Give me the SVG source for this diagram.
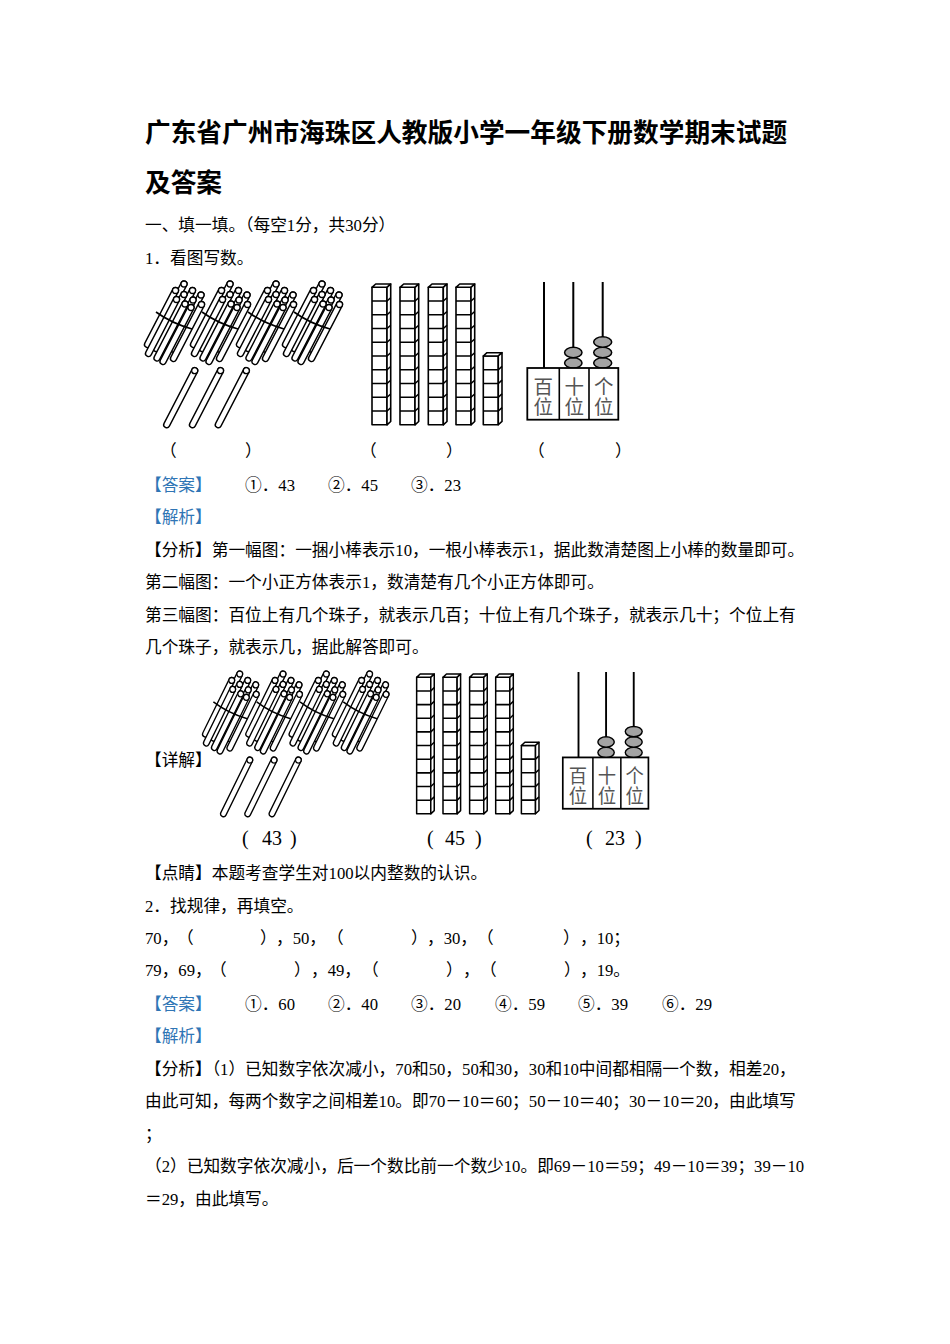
<svg xmlns="http://www.w3.org/2000/svg" xmlns:xlink="http://www.w3.org/1999/xlink" width="950" height="1344" viewBox="0 0 950 1344">
<style>
.t{font-family:"Liberation Serif","Noto Sans CJK SC",serif;font-size:16.7px;fill:#000}
.b{fill:#2f75b5}
.ti{font-family:"Noto Sans CJK SC",sans-serif;font-size:25.7px;font-weight:bold;fill:#000}
.ab{font-family:"Noto Sans CJK SC",sans-serif;font-size:19.5px;fill:#555;text-anchor:middle}
.pp{font-family:"Liberation Serif","Noto Sans CJK SC",serif;font-size:20px;fill:#000}
.ln{stroke:#000;fill:none;stroke-width:1.6}
.cb{stroke:#000;fill:#fff;stroke-width:1.6;stroke-linejoin:round}
.bead{fill:#a3a3a3;stroke:#000;stroke-width:1.5}
</style>
<defs>
<g id="stick">
<path d="M0 0L-28 54" stroke="#000" stroke-width="7.4" stroke-linecap="round" fill="none"/>
<path d="M0 0L-28 54" stroke="#fff" stroke-width="4.6" stroke-linecap="round" fill="none"/>
<circle r="3" fill="#fff" stroke="#000" stroke-width="1.3"/>
</g>
<g id="bundle">
<use xlink:href="#stick" href="#stick" x="184" y="284"/>
<use xlink:href="#stick" href="#stick" x="175.5" y="290.5"/>
<use xlink:href="#stick" href="#stick" x="192.5" y="290.5"/>
<use xlink:href="#stick" href="#stick" x="184" y="294.5"/>
<use xlink:href="#stick" href="#stick" x="201" y="295"/>
<use xlink:href="#stick" href="#stick" x="176.5" y="299.5"/>
<use xlink:href="#stick" href="#stick" x="193" y="300"/>
<use xlink:href="#stick" href="#stick" x="185" y="304"/>
<use xlink:href="#stick" href="#stick" x="201.5" y="304.5"/>
<use xlink:href="#stick" href="#stick" x="191" y="307.5"/>
<path class="ln" d="M156 312Q171 323 192 329"/>
</g>
<g id="col10">
<rect class="cb" x="0" y="0" width="15" height="137.5"/>
<path class="cb" d="M0 0l3.7 -3.3h15l-3.7 3.3z"/>
<path class="cb" d="M15 0l3.7 -3.3v137.5l-3.7 3.3z"/>
<path class="ln" stroke-width="1.3" d="M0 13.75h15l3.7 -3.3M0 27.5h15l3.7 -3.3M0 41.25h15l3.7 -3.3M0 55h15l3.7 -3.3M0 68.75h15l3.7 -3.3M0 82.5h15l3.7 -3.3M0 96.25h15l3.7 -3.3M0 110h15l3.7 -3.3M0 123.75h15l3.7 -3.3"/>
</g>
<g id="col5">
<rect class="cb" x="0" y="0" width="15" height="68.75"/>
<path class="cb" d="M0 0l3.7 -3.3h15l-3.7 3.3z"/>
<path class="cb" d="M15 0l3.7 -3.3v68.75l-3.7 3.3z"/>
<path class="ln" stroke-width="1.3" d="M0 13.75h15l3.7 -3.3M0 27.5h15l3.7 -3.3M0 41.25h15l3.7 -3.3M0 55h15l3.7 -3.3"/>
</g>
<g id="figs">
<g id="sticks">
<use xlink:href="#bundle" href="#bundle" x="0"/>
<use xlink:href="#bundle" href="#bundle" x="46"/>
<use xlink:href="#bundle" href="#bundle" x="92"/>
<use xlink:href="#bundle" href="#bundle" x="138"/>
<use xlink:href="#stick" href="#stick" x="194.7" y="370.7"/>
<use xlink:href="#stick" href="#stick" x="220.5" y="370.7"/>
<use xlink:href="#stick" href="#stick" x="246.3" y="370.7"/>
</g>
<g id="cubes">
<use xlink:href="#col10" href="#col10" x="372" y="287.3"/>
<use xlink:href="#col10" href="#col10" x="400" y="287.3"/>
<use xlink:href="#col10" href="#col10" x="428.3" y="287.3"/>
<use xlink:href="#col10" href="#col10" x="456" y="287.3"/>
<use xlink:href="#col5" href="#col5" x="483.3" y="356"/>
</g>
<g id="abacus">
<path stroke="#000" stroke-width="2" fill="none" d="M544 282V368M573.3 282V368M602.7 282V368"/>
<ellipse class="bead" cx="573.3" cy="363" rx="8.7" ry="5.2"/>
<ellipse class="bead" cx="573.3" cy="352.5" rx="8.7" ry="5.2"/>
<ellipse class="bead" cx="602.7" cy="363" rx="9" ry="5.2"/>
<ellipse class="bead" cx="602.7" cy="352.5" rx="9" ry="5.2"/>
<ellipse class="bead" cx="602.7" cy="342" rx="9" ry="5.2"/>
<rect x="527.3" y="368" width="91" height="51.7" fill="#fff" stroke="#000" stroke-width="1.8"/>
<path stroke="#000" stroke-width="1.6" d="M559.3 368V419.7M589 368V419.7"/>
<text class="ab" x="543.3" y="393.5">百</text>
<text class="ab" x="543.3" y="413.5">位</text>
<text class="ab" x="574.2" y="393.5">十</text>
<text class="ab" x="574.2" y="413.5">位</text>
<text class="ab" x="603.7" y="393.5">个</text>
<text class="ab" x="603.7" y="413.5">位</text>
</g>
</g>
</defs>

<g id="title">
<text class="ti" x="145" y="142">广东省广州市海珠区人教版小学一年级下册数学期末试题</text>
<text class="ti" x="145" y="192">及答案</text>
</g>

<g id="q1">
<text class="t" x="145" y="231.3">一、填一填。（每空1分，共30分）</text>
<text class="t" x="145" y="264.3">1．看图写数。</text>
<use id="fig-main" xlink:href="#figs" href="#figs"/>
<text class="t" x="160" y="457.3">（</text>
<text class="t" x="245" y="457.3">）</text>
<text class="t" x="360" y="457.3">（</text>
<text class="t" x="446" y="457.3">）</text>
<text class="t" x="528" y="457.3">（</text>
<text class="t" x="615" y="457.3">）</text>
<text class="t b" x="145" y="491.3">【答案】</text>
<text class="t" x="245" y="491.3">①．43</text>
<text class="t" x="328" y="491.3">②．45</text>
<text class="t" x="411" y="491.3">③．23</text>
<text class="t b" x="145" y="523.3">【解析】</text>
<text class="t" x="145" y="556.3">【分析】第一幅图：一捆小棒表示10，一根小棒表示1，据此数清楚图上小棒的数量即可。</text>
<text class="t" x="145" y="588.3">第二幅图：一个小正方体表示1，数清楚有几个小正方体即可。</text>
<text class="t" x="145" y="621.3">第三幅图：百位上有几个珠子，就表示几百；十位上有几个珠子，就表示几十；个位上有</text>
<text class="t" x="145" y="653.3">几个珠子，就表示几，据此解答即可。</text>
<text class="t" x="145" y="766.3">【详解】</text>
<use id="fig-detail" xlink:href="#figs" href="#figs" transform="translate(66.6,392) scale(0.941,0.993)"/>
<text class="pp" x="242" y="845">(</text>
<text class="pp" x="262" y="845">43</text>
<text class="pp" x="290" y="845">)</text>
<text class="pp" x="427" y="845">(</text>
<text class="pp" x="445" y="845">45</text>
<text class="pp" x="475" y="845">)</text>
<text class="pp" x="586" y="845">(</text>
<text class="pp" x="605" y="845">23</text>
<text class="pp" x="635" y="845">)</text>
<text class="t" x="145" y="879.3">【点睛】本题考查学生对100以内整数的认识。</text>
</g>

<g id="q2">
<text class="t" x="145" y="912.3">2．找规律，再填空。</text>
<text class="t" x="145" y="944.3">70，</text>
<text class="t" x="177" y="944.3">（</text>
<text class="t" x="260" y="944.3">）</text>
<text class="t" x="276" y="944.3">，50，</text>
<text class="t" x="327" y="944.3">（</text>
<text class="t" x="411" y="944.3">）</text>
<text class="t" x="427" y="944.3">，30，</text>
<text class="t" x="477" y="944.3">（</text>
<text class="t" x="563" y="944.3">）</text>
<text class="t" x="580" y="944.3">，10；</text>
<text class="t" x="145" y="976.3">79，69，</text>
<text class="t" x="210" y="976.3">（</text>
<text class="t" x="294" y="976.3">）</text>
<text class="t" x="311" y="976.3">，49，</text>
<text class="t" x="362" y="976.3">（</text>
<text class="t" x="446" y="976.3">）</text>
<text class="t" x="463" y="976.3">，</text>
<text class="t" x="480" y="976.3">（</text>
<text class="t" x="564" y="976.3">）</text>
<text class="t" x="580" y="976.3">，19。</text>
<text class="t b" x="145" y="1010.3">【答案】</text>
<text class="t" x="245" y="1010.3">①．60</text>
<text class="t" x="328" y="1010.3">②．40</text>
<text class="t" x="411" y="1010.3">③．20</text>
<text class="t" x="495" y="1010.3">④．59</text>
<text class="t" x="578" y="1010.3">⑤．39</text>
<text class="t" x="662" y="1010.3">⑥．29</text>
<text class="t b" x="145" y="1042.3">【解析】</text>
<text class="t" x="145" y="1075.3">【分析】（1）已知数字依次减小，70和50，50和30，30和10中间都相隔一个数，相差20，</text>
<text class="t" x="145" y="1107.3">由此可知，每两个数字之间相差10。即70－10＝60；50－10＝40；30－10＝20，由此填写</text>
<text class="t" x="145" y="1140.3">；</text>
<text class="t" x="145" y="1172.3">（2）已知数字依次减小，后一个数比前一个数少10。即69－10＝59；49－10＝39；39－10</text>
<text class="t" x="145" y="1205.3">＝29，由此填写。</text>
</g>
</svg>
